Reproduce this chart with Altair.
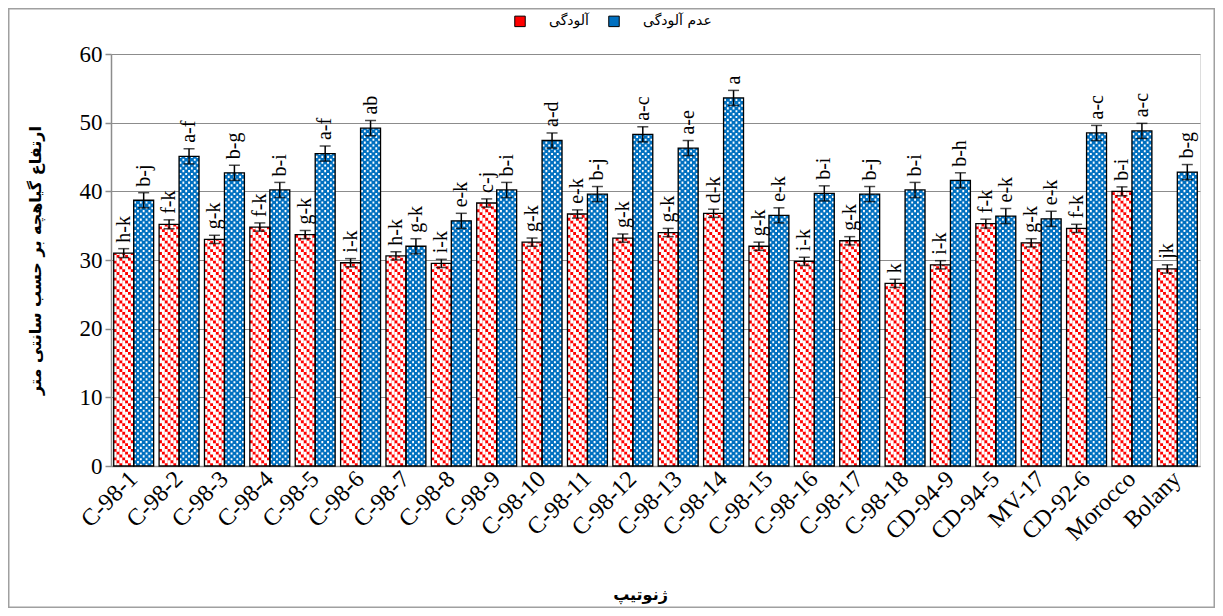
import altair as alt
import pandas as pd

genotypes = ["C-98-1", "C-98-2", "C-98-3", "C-98-4", "C-98-5", "C-98-6", "C-98-7", "C-98-8",
             "C-98-9", "C-98-10", "C-98-11", "C-98-12", "C-98-13", "C-98-14", "C-98-15",
             "C-98-16", "C-98-17", "C-98-18", "CD-94-9", "CD-94-5", "MV-17", "CD-92-6",
             "Morocco", "Bolany"]
series_names = ["آلودگی", "عدم آلودگی"]

infected = [31.0, 35.2, 33.0, 34.8, 33.7, 29.6, 30.6, 29.5, 38.3, 32.6, 36.7, 33.2,
            34.0, 36.8, 32.0, 29.8, 32.8, 26.6, 29.3, 35.3, 32.5, 34.6, 40.0, 28.7]
healthy = [38.7, 45.1, 42.7, 40.2, 45.5, 49.2, 32.0, 35.7, 40.2, 47.4, 39.6, 48.3,
           46.3, 53.6, 36.5, 39.7, 39.6, 40.2, 41.6, 36.4, 36.0, 48.5, 48.8, 42.8]
infected_se = [0.65, 0.65, 0.6, 0.6, 0.6, 0.6, 0.6, 0.6, 0.6, 0.6, 0.6, 0.6,
               0.6, 0.6, 0.6, 0.6, 0.6, 0.6, 0.6, 0.65, 0.6, 0.6, 0.65, 0.6]
healthy_se = [1.1, 1.1, 1.1, 1.1, 1.1, 1.1, 1.1, 1.1, 1.1, 1.1, 1.1, 1.1,
              1.1, 1.1, 1.1, 1.1, 1.1, 1.1, 1.1, 1.1, 1.1, 1.1, 1.1, 1.1]
infected_letters = ["h-k", "f-k", "g-k", "f-k", "g-k", "i-k", "h-k", "i-k", "c-j", "g-k",
                    "e-k", "g-k", "g-k", "d-k", "g-k", "i-k", "g-k", "k", "i-k", "f-k",
                    "g-k", "f-k", "b-i", "jk"]
healthy_letters = ["b-j", "a-f", "b-g", "b-i", "a-f", "ab", "g-k", "e-k", "b-i", "a-d",
                   "b-j", "a-c", "a-e", "a", "e-k", "b-i", "b-j", "b-i", "b-h", "e-k",
                   "e-k", "a-c", "a-c", "b-g"]
y_ticks = [0, 10, 20, 30, 40, 50, 60]

rows = []
for i, g in enumerate(genotypes):
    rows.append({"g": g, "s": series_names[0], "v": infected[i], "e": infected_se[i],
                 "lab": infected_letters[i]})
    rows.append({"g": g, "s": series_names[1], "v": healthy[i], "e": healthy_se[i],
                 "lab": healthy_letters[i]})
df = pd.DataFrame(rows)
df["lo"] = df["v"] - df["e"]
df["hi"] = df["v"] + df["e"]
df["zero"] = 0.0

W, H = 1089, 412
PL, PT, PR = 103, 46, 15
PB = 600 - PT - H
RED, BLUE = "#ff0000", "#0070c0"
GRAY = "#8c8c8c"
SERIF = "Liberation Serif, Times New Roman, serif"
FA = "DejaVu Sans"

pad_inner, pad_outer = 0.12, 0.06
step = W / (len(genotypes) - pad_inner + 2 * pad_outer)
sub = step * (1 - pad_inner) / 2.0

xenc = alt.X("g:N", sort=genotypes,
             scale=alt.Scale(paddingInner=pad_inner, paddingOuter=pad_outer, round=False),
             axis=alt.Axis(title="ژنوتیپ", labelAngle=315, labelAlign="right",
                           labelBaseline="middle", labelFont=SERIF, labelFontSize=24,
                           labelColor="black", labelPadding=9, ticks=False, tickSize=0,
                           domainColor=GRAY, domainWidth=1.5, grid=False,
                           titleFont=FA, titleFontSize=16, titleFontWeight="bold",
                           titleColor="black", titleX=529, titleY=128,
                           titleAlign="center", titleBaseline="middle"))
xoff = alt.XOffset("s:N", sort=series_names,
                   scale=alt.Scale(paddingInner=0, paddingOuter=0))
yenc = alt.Y("v:Q", scale=alt.Scale(domain=[0, 60], nice=False),
             axis=alt.Axis(title="ارتفاع گیاهچه بر حسب سانتی متر", values=y_ticks,
                           labelFont=SERIF, labelFontSize=23, labelColor="black",
                           labelPadding=3, tickSize=6, tickColor=GRAY, tickWidth=1.5,
                           domainColor=GRAY, domainWidth=1.5,
                           gridColor=GRAY, gridWidth=1,
                           titleFont=FA, titleFontSize=16, titleFontWeight="bold",
                           titleColor="black", titleAngle=270, titleX=-76, titleY=H / 2,
                           titleAlign="center", titleBaseline="middle"))

base = alt.Chart(df)

bars = base.mark_bar().encode(
    x=xenc, xOffset=xoff, y=yenc,
    color=alt.Color("s:N", sort=series_names,
                    scale=alt.Scale(domain=series_names, range=[RED, BLUE]),
                    legend=alt.Legend(title=None, orient="none", legendX=402, legendY=-40,
                                      direction="horizontal", symbolType="square",
                                      symbolSize=110, symbolStrokeColor="black",
                                      symbolStrokeWidth=1, symbolOpacity=1,
                                      labelFont=FA, labelFontSize=14, labelColor="black",
                                      labelOffset=22, columnPadding=17, padding=0)),
)

layers = [bars]

# red series texture: white ground with red diagonal dashes
nr = 7
wr = sub / nr
red_rows = base.transform_filter(alt.datum.s == series_names[0])
for i in range(nr):
    layers.append(red_rows.mark_rule(
        color="white", strokeWidth=wr, strokeDash=[2 * wr, wr], strokeDashOffset=i * wr,
        xOffset=-sub + (i + 0.5) * wr).encode(
        x=alt.X("g:N", sort=genotypes), y=alt.Y("zero:Q"), y2="v:Q"))

# blue series texture: checker of small white squares
nb = 7
wb = sub / nb
blue_rows = base.transform_filter(alt.datum.s == series_names[1])
for i in range(nb):
    layers.append(blue_rows.mark_rule(
        color="white", strokeWidth=wb * 0.65, strokeDash=[wb * 0.75, wb * 1.25],
        strokeDashOffset=(i % 2) * wb,
        xOffset=(i + 0.5) * wb).encode(
        x=alt.X("g:N", sort=genotypes), y=alt.Y("zero:Q"), y2="v:Q"))

xg = alt.X("g:N", sort=genotypes)
outline = base.mark_bar(fillOpacity=0, stroke="black", strokeWidth=1.3).encode(
    x=xg, xOffset=xoff, y="v:Q")
err = base.mark_rule(color="black", strokeWidth=1.5).encode(
    x=xg, xOffset=xoff, y="lo:Q", y2="hi:Q")
cap_hi = base.mark_tick(color="black", thickness=1.5, size=11, orient="horizontal").encode(
    x=xg, xOffset=xoff, y="hi:Q")
cap_lo = base.mark_tick(color="black", thickness=1.5, size=11, orient="horizontal").encode(
    x=xg, xOffset=xoff, y="lo:Q")
letters = base.mark_text(angle=270, align="left", baseline="middle", dx=6,
                         font=SERIF, fontSize=20, color="black").encode(
    x=xg, xOffset=xoff, y="hi:Q", text="lab:N")

frame = alt.Chart(alt.Data(values=[{"k": 1}])).mark_rect(
    fillOpacity=0, stroke="#a0a0a0", strokeWidth=1.5, clip=False).encode(
    x=alt.value(-PL + 0.75), x2=alt.value(W + PR - 0.75),
    y=alt.value(-PT + 0.75), y2=alt.value(H + PB - 0.75))

layers += [outline, err, cap_hi, cap_lo, letters, frame]

chart = alt.layer(*layers).properties(
    width=W, height=H,
    padding={"left": PL, "top": PT, "right": PR, "bottom": PB},
    autosize=alt.AutoSizeParams(type="none"),
).configure_view(strokeWidth=0).configure(background="white")

chart.save("out.html", embed_options={"renderer": "svg", "actions": False})
